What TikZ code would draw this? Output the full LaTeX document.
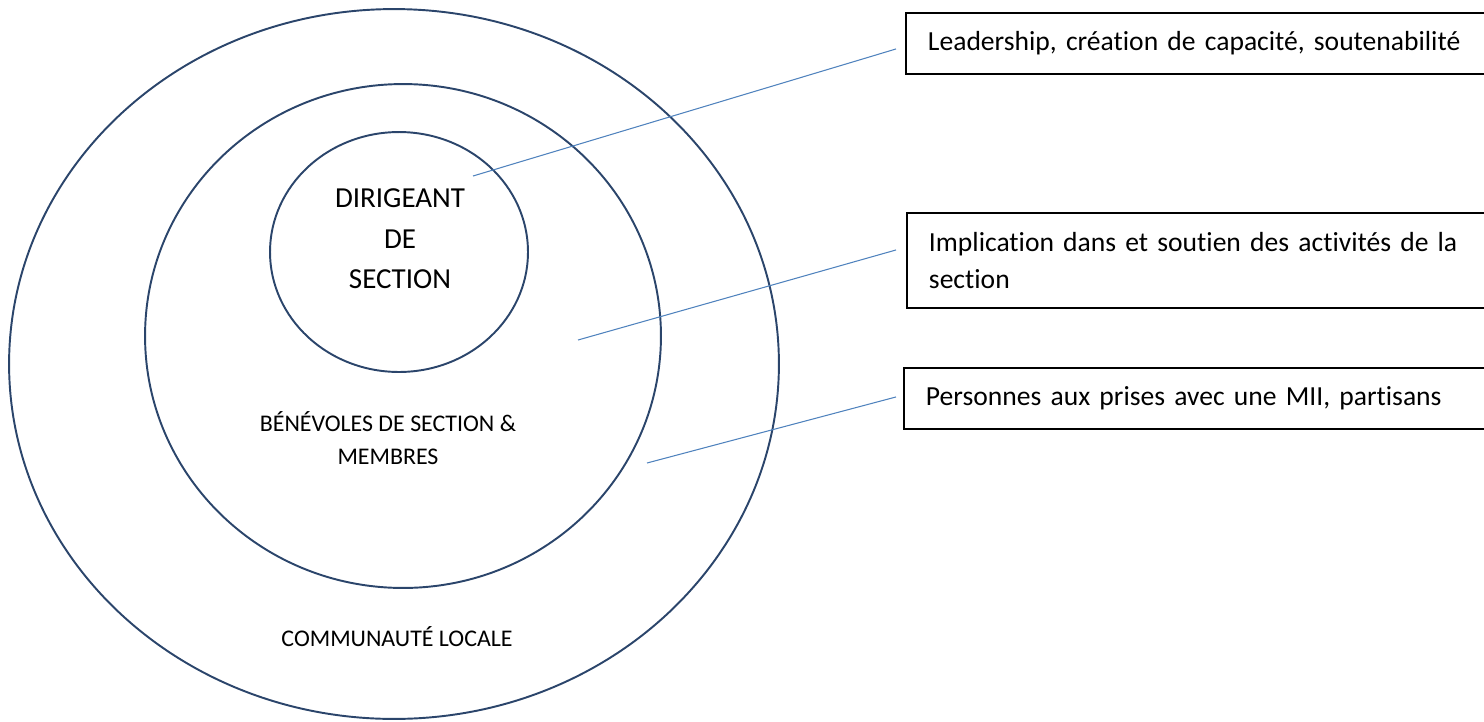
\documentclass[tikz,border=0pt]{standalone}
\usepackage{fontspec}
\setmainfont{Carlito}[Ligatures=NoCommon]
\usepackage{tikz}
\usetikzlibrary{shapes.geometric}
\definecolor{ringblue}{rgb}{0.17, 0.27, 0.42}
\definecolor{lineblue}{rgb}{0.31, 0.51, 0.74}
\begin{document}
\begin{tikzpicture}[x=0.02cm, y=-0.02cm,
  ring/.style={ellipse, draw=ringblue, line width=1.1pt, inner sep=0pt},
  infobox/.style={draw, line width=1.1pt, anchor=north west, minimum width=11.42cm, text width=10.8cm, inner xsep=0.44cm, align=left, font=\fontsize{15.7}{21}\selectfont},
  pointer/.style={draw=lineblue, line width=0.6pt}]
\useasboundingbox (0,0) rectangle (1484,721);
\node[ring, minimum width=15.4cm, minimum height=14.2cm] (community) at (394,364) {};
\node[ring, minimum width=10.32cm, minimum height=10.08cm] (members) at (403,336) {};
\node[ring, minimum width=5.16cm, minimum height=4.8cm] (leader) at (399,252) {};
\node[align=center, font=\fontsize{16.5}{23}\selectfont] (leadtext) at (400,239) {DIRIGEANT\\DE\\SECTION};
\node[align=center, font=\fontsize{13.6}{18.7}\selectfont] (membtext) at (388,438) {BÉNÉVOLES DE SECTION \&\\MEMBRES};
\node[font=\fontsize{13.6}{15}\selectfont] (commtext) at (397,637) {COMMUNAUTÉ LOCALE};
\node[infobox, minimum height=1.22cm] (leadbox) at (905,12) {Leadership, création de capacité, soutenabilité};
\node[infobox, minimum height=1.9cm] (membbox) at (906,212) {Implication dans et soutien des activités de la\\section};
\node[infobox, minimum height=1.22cm] (commbox) at (903,367) {Personnes aux prises avec une MII, partisans};
\coordinate (leadpt) at (473,176);
\coordinate (membpt) at (578,340);
\coordinate (commpt) at (647,463);
\draw[pointer] (leadpt) -- ([shift={(-0.18cm,-0.11cm)}]leadbox.west);
\draw[pointer] (membpt) -- ([shift={(-0.2cm,0.21cm)}]membbox.west);
\draw[pointer] (commpt) -- ([shift={(-0.14cm,0.03cm)}]commbox.west);
\end{tikzpicture}
\end{document}
